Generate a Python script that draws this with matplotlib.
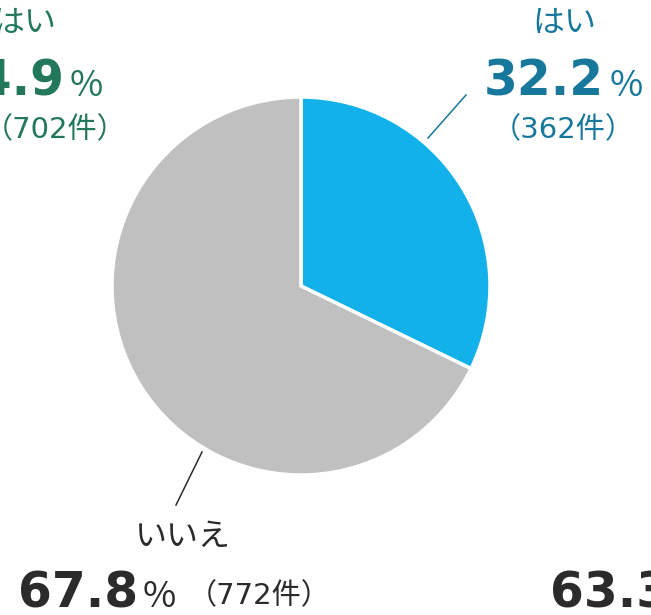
import matplotlib
matplotlib.use("Agg")
import matplotlib.pyplot as plt

# data
labels = ["はい", "いいえ"]
percents = [32.2, 67.8]
counts = [362, 772]
slice_colors = ["#13b1e9", "#c0c0c0"]
text_colors = ["#17789b", "#2b2b2b"]

# neighbouring chart, cut off by the crop
left_label = "はい"
left_percent = 64.9
left_count = 702
left_color = "#23775b"
right_percent = 63.3

W, H = 651, 615
JP = ["Noto Sans CJK JP", "DejaVu Sans"]
NUM = ["DejaVu Sans", "Noto Sans CJK JP"]

fig = plt.figure(figsize=(W / 100, H / 100), dpi=100)
ax = fig.add_axes([0, 0, 1, 1])

ax.pie(percents, colors=slice_colors, startangle=90, counterclock=False,
       center=(301, H - 286), radius=189,
       wedgeprops=dict(edgecolor="white", linewidth=2.5))
ax.set_xlim(0, W)
ax.set_ylim(0, H)
ax.set_aspect("equal")
ax.axis("off")


def y(v):
    return H - v


kana = dict(fontsize=23, family=JP)
big = dict(fontsize=35, family=NUM, weight="bold")
pct = dict(fontsize=26, family=JP)
cnt = dict(fontsize=21, family=NUM)

# はい (blue slice)
c = text_colors[0]
ax.plot([428, 466], [y(138), y(95)], color=c, lw=1.1)
ax.text(564, y(23), labels[0], color=c, ha="center", va="center", **kana)
ax.text(604, y(96), f"{percents[0]:.1f}", color=c, ha="right",
        va="baseline", **big)
ax.text(610, y(96), "%", color=c, ha="left", va="baseline", **pct)
ax.text(563, y(130), f"（{counts[0]}件）", color=c, ha="center",
        va="center", **cnt)

# いいえ (gray slice)
c = text_colors[1]
ax.plot([202, 176], [y(452), y(505)], color=c, lw=1.1)
ax.text(183, y(537), labels[1], color=c, ha="center", va="center", **kana)
ax.text(138, y(607), f"{percents[1]:.1f}", color=c, ha="right",
        va="baseline", **big)
ax.text(143, y(607), "%", color=c, ha="left", va="baseline", **pct)
ax.text(188, y(596), f"（{counts[1]}件）", color=c, ha="left",
        va="center", **cnt)

# neighbouring labels (clipped by the edges)
c = left_color
ax.text(56, y(23), left_label, color=c, ha="right", va="center", **kana)
ax.text(64, y(96), f"{left_percent:.1f}", color=c, ha="right",
        va="baseline", **big)
ax.text(70, y(96), "%", color=c, ha="left", va="baseline", **pct)
ax.text(127, y(130), f"（{left_count}件）", color=c, ha="right",
        va="center", **cnt)
ax.text(550, y(607), f"{right_percent:.1f}", color=text_colors[1],
        ha="left", va="baseline", **big)

fig.savefig("out.png", dpi=100)
